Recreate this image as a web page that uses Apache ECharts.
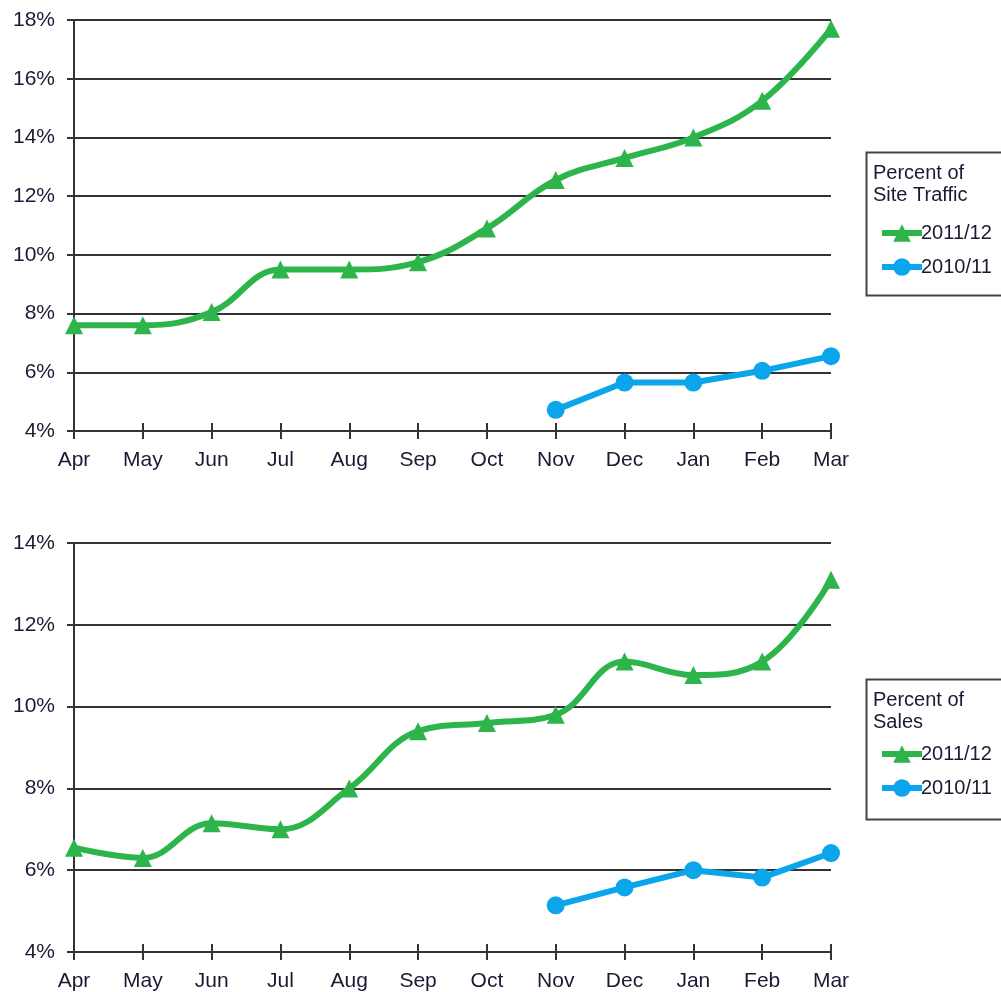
<!DOCTYPE html>
<html>
<head>
<meta charset="utf-8">
<script src="https://cdn.jsdelivr.net/npm/echarts@6/dist/echarts.min.js"></script>
<style>
  html, body { margin: 0; padding: 0; background: #fff; }
  #chart { width: 1001px; height: 992px; }
</style>
</head>
<body>
<div id="chart"></div>
<script>
const months = ["Apr", "May", "Jun", "Jul", "Aug", "Sep", "Oct", "Nov", "Dec", "Jan", "Feb", "Mar"];
const seriesNames = ["2011/12", "2010/11"];

// Percent of Site Traffic
const traffic2011 = [7.6, 7.6, 8.05, 9.5, 9.5, 9.75, 10.9, 12.55, 13.3, 14.0, 15.25, 17.7];
const traffic2010 = [null, null, null, null, null, null, null, 4.72, 5.65, 5.65, 6.05, 6.55];
const trafficTicks = { min: 4, max: 18, interval: 2 };

// Percent of Sales
const sales2011 = [6.55, 6.3, 7.15, 7.0, 8.0, 9.4, 9.6, 9.8, 11.1, 10.77, 11.1, 13.1];
const sales2010 = [null, null, null, null, null, null, null, 5.14, 5.58, 6.0, 5.82, 6.42];
const salesTicks = { min: 4, max: 14, interval: 2 };

const green = "#2db54b";
const blue = "#0aa5ea";
const ink = "#1a1a33";
const lineCol = "#333";
const font = "Liberation Sans, Arial, sans-serif";

const chart = echarts.init(document.getElementById("chart"));

function xAxes(gridIndex) {
  return [
    {
      type: "category", gridIndex: gridIndex, data: months, boundaryGap: false,
      axisLine: { lineStyle: { color: lineCol, width: 2 } },
      axisTick: { alignWithLabel: true, length: 8, lineStyle: { color: lineCol, width: 2 } },
      axisLabel: { color: ink, fontSize: 21, fontFamily: font, margin: 19, interval: 0 },
      splitLine: { show: false }
    },
    {
      // second axis only for the part of the ticks above the line
      type: "category", gridIndex: gridIndex, data: months, boundaryGap: false, position: "bottom",
      axisLine: { show: false },
      axisTick: { inside: true, length: 8, interval: 0, lineStyle: { color: lineCol, width: 2 } },
      axisLabel: { show: false },
      splitLine: { show: false }
    }
  ];
}

function yAxis(gridIndex, ticks) {
  return {
    type: "value", gridIndex: gridIndex, min: ticks.min, max: ticks.max, interval: ticks.interval,
    axisLine: { show: true, lineStyle: { color: lineCol, width: 2 } },
    axisTick: { show: true, length: 7, lineStyle: { color: lineCol, width: 2 } },
    axisLabel: { color: ink, fontSize: 21, fontFamily: font, margin: 19, formatter: "{value}%" },
    splitLine: { show: true, lineStyle: { color: lineCol, width: 2 } }
  };
}

function lineSeries(name, data, xi, yi, color, symbol, smooth) {
  return {
    name: name, type: "line", data: data, xAxisIndex: xi, yAxisIndex: yi,
    smooth: smooth, symbol: symbol, symbolSize: 18,
    connectNulls: false,
    lineStyle: { color: color, width: 6 },
    itemStyle: { color: color },
    z: 5
  };
}

function legendBox(top, height, title) {
  return [
    {
      type: "rect", left: 864, top: top,
      shape: { width: 150, height: height },
      style: { fill: "none", stroke: "#444", lineWidth: 2 }
    },
    {
      type: "text", left: 873, top: top + 12,
      style: { text: title, font: "20px " + font, fill: ink, lineHeight: 22 }
    }
  ];
}

function legend(top) {
  return {
    orient: "vertical", left: 874, top: top, itemWidth: 40, itemHeight: 22, itemGap: 14,
    data: seriesNames,
    lineStyle: { width: 6 },
    textStyle: { color: ink, fontSize: 20, fontFamily: font, padding: [0, 0, 0, -6] }
  };
}

const option = {
  animation: false,
  backgroundColor: "#fff",
  grid: [
    { left: 74, right: 170, top: 20, height: 411 },
    { left: 74, right: 170, top: 543, height: 412 }
  ],
  xAxis: [].concat(xAxes(0), xAxes(1)),
  yAxis: [yAxis(0, trafficTicks), yAxis(1, salesTicks)],
  legend: [legend(218), legend(739)],
  graphic: [].concat(
    legendBox(150, 143, "Percent of\nSite Traffic"),
    legendBox(677, 140, "Percent of\nSales")
  ),
  series: [
    lineSeries(seriesNames[0], traffic2011, 0, 0, green, "triangle", 0.4),
    lineSeries(seriesNames[1], traffic2010, 0, 0, blue, "circle", false),
    lineSeries(seriesNames[0], sales2011, 2, 1, green, "triangle", 0.4),
    lineSeries(seriesNames[1], sales2010, 2, 1, blue, "circle", false)
  ]
};

chart.setOption(option);
window.addEventListener("resize", chart.resize);
</script>
</body>
</html>
